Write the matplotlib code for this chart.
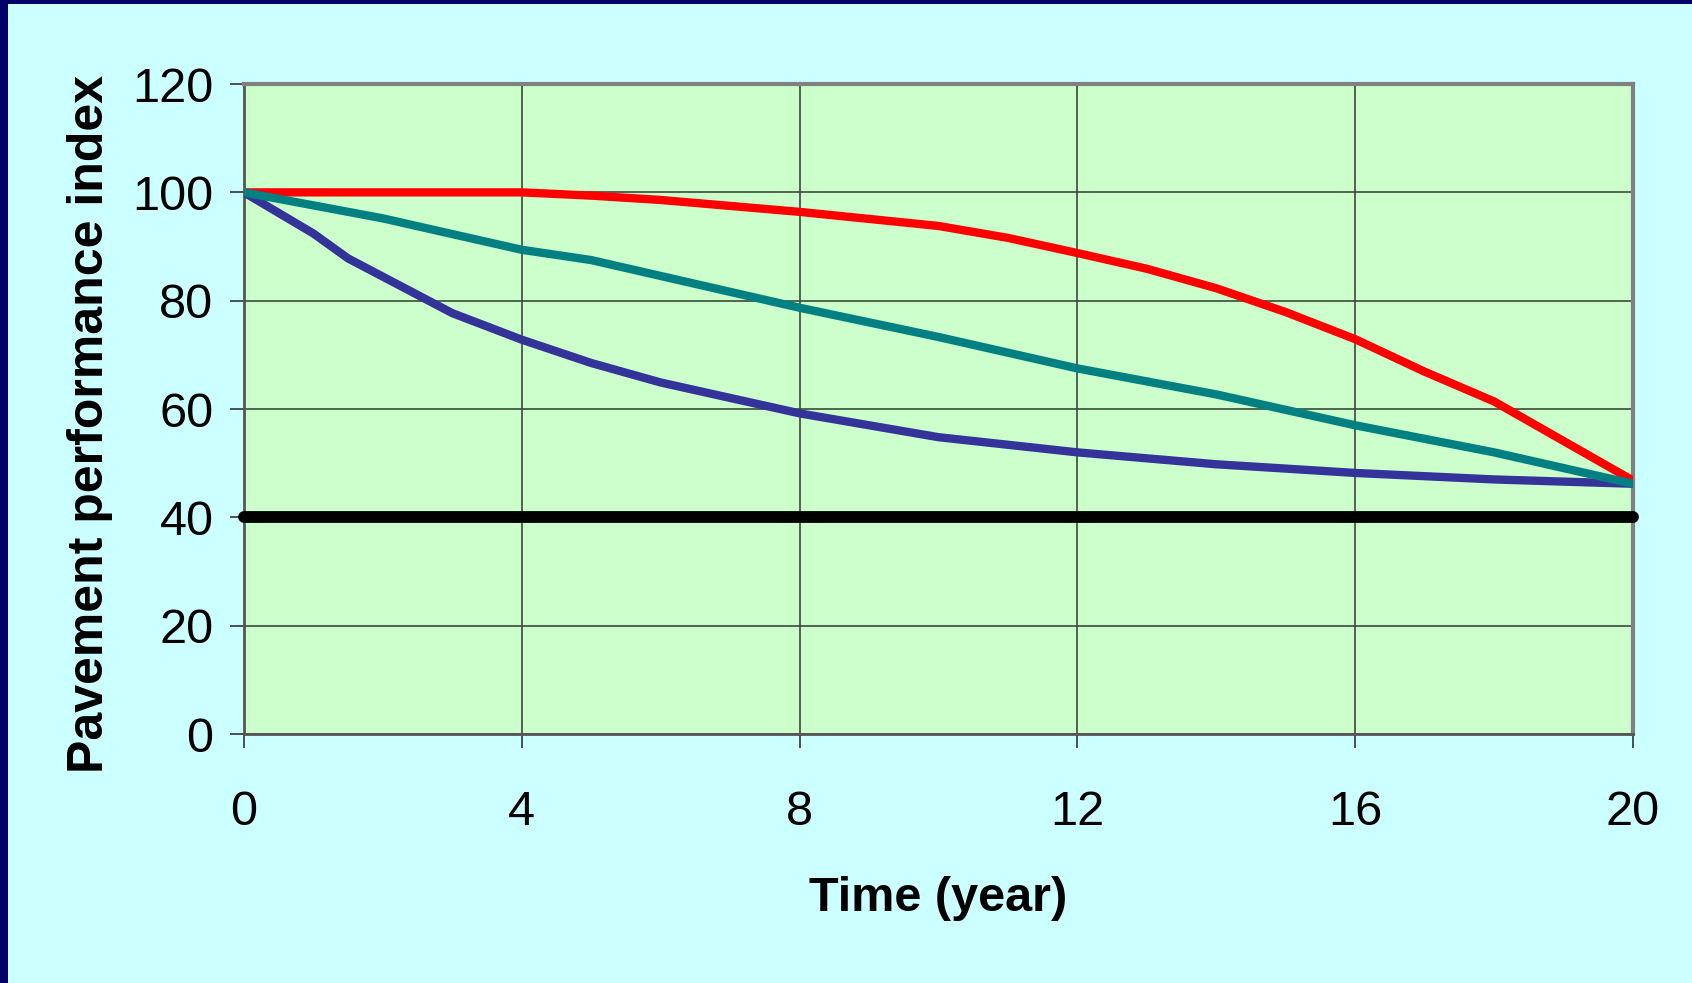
import matplotlib.pyplot as plt
from matplotlib.patches import Rectangle

plt.rcParams['font.family'] = ['Liberation Sans', 'DejaVu Sans']

years_red = [0, 2, 4, 5, 6, 8, 10, 11, 12, 13, 14, 15, 16, 17, 18, 20]
index_red = [100, 100, 100, 99.4, 98.6, 96.4, 93.8, 91.6, 88.8, 85.9, 82.3, 77.9, 72.9, 66.9, 61.4, 46.8]

years_teal = [0, 2, 4, 5, 8, 10, 12, 14, 16, 18, 20]
index_teal = [100, 95.2, 89.4, 87.5, 78.7, 73.3, 67.5, 62.7, 57.0, 52.0, 46.2]

years_navy = [0, 1, 1.5, 3, 4, 5, 6, 8, 10, 12, 14, 16, 18, 20]
index_navy = [100, 92.4, 87.8, 77.7, 72.8, 68.5, 64.9, 59.2, 54.8, 52.0, 49.8, 48.2, 47.0, 46.2]

threshold = 40

fig = plt.figure(figsize=(16.92, 9.83), dpi=100)
fig.patch.set_facecolor('#CCFFFF')
# dark frame along left and top edges
fig.patches.append(Rectangle((0, 0), 8 / 1692, 1, transform=fig.transFigure,
                             facecolor='#000066', edgecolor='none', zorder=0))
fig.patches.append(Rectangle((0, 1 - 4 / 983), 1, 4 / 983, transform=fig.transFigure,
                             facecolor='#000066', edgecolor='none', zorder=0))

ax = fig.add_axes([0.1442, 0.2533, 0.8209, 0.6612])
ax.set_facecolor('#CCFFCC')

ax.plot(years_navy, index_navy, color='#333399', lw=6, solid_joinstyle='round', zorder=3)
ax.plot(years_red, index_red, color='#FF0000', lw=6, solid_joinstyle='round', zorder=4)
ax.plot(years_teal, index_teal, color='#008080', lw=6, solid_joinstyle='round', zorder=5)
ax.plot([0, 20], [threshold, threshold], color='black', lw=8.5,
        solid_capstyle='round', zorder=6, clip_on=False)

ax.set_xlim(0, 20)
ax.set_ylim(0, 120)
ax.set_xticks(range(0, 21, 4))
ax.set_yticks(range(0, 121, 20))
ax.grid(True, color='#3a4a3a', lw=1.2)
ax.set_axisbelow(True)

for side in ['top', 'right']:
    ax.spines[side].set_color('#808080')
    ax.spines[side].set_linewidth(3)
ax.spines['left'].set_color('#555555')
ax.spines['left'].set_linewidth(2)
ax.spines['bottom'].set_color('#555555')
ax.spines['bottom'].set_linewidth(2)

ax.tick_params(axis='both', direction='out', length=10, width=1.2, color='#333333',
               labelsize=35)
ax.tick_params(axis='x', pad=30)
ax.tick_params(axis='y', pad=12)

ax.set_xlabel('Time (year)', fontsize=35, fontweight='bold', labelpad=30)
ax.set_ylabel('Pavement performance index', fontsize=36, fontweight='bold', labelpad=14)
ax.yaxis.label.set_y(0.477)

fig.savefig('out.png', dpi=100, facecolor=fig.get_facecolor())
